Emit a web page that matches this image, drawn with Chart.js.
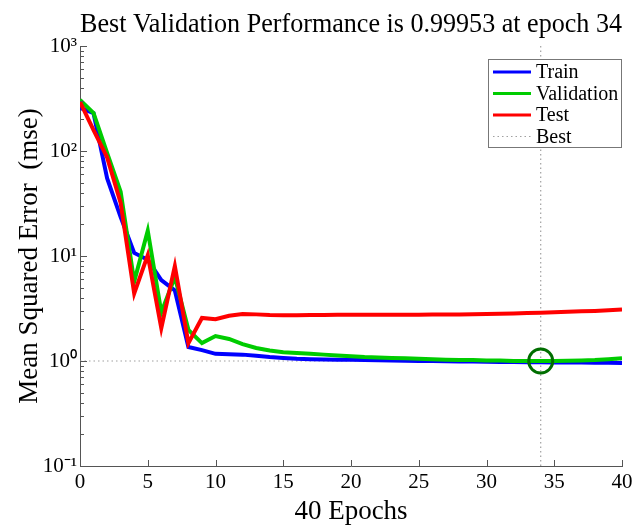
<!DOCTYPE html>
<html>
<head>
<meta charset="utf-8">
<script src="https://cdn.jsdelivr.net/npm/chart.js@4.4.0/dist/chart.umd.min.js"></script>
<style>
  body { margin: 0; background: #fff; }
  #perfcontainer { width: 638px; height: 528px; }
</style>
</head>
<body>
<div id="perfcontainer"><canvas id="perfchart" width="638" height="528"></canvas></div>
<script>
// epochs and mse values
var epochs = [0, 1, 2, 3, 4, 5, 6, 7, 8, 9, 10, 11, 12, 13, 14, 15, 16, 17, 18, 19, 20,
              21, 22, 23, 24, 25, 26, 27, 28, 29, 30, 31, 32, 33, 34, 35, 36, 37, 38, 39, 40];

var trainMse = [257, 229, 55, 23.5, 10.7, 9.2, 5.9, 4.7, 1.36, 1.27, 1.17, 1.16, 1.15, 1.12, 1.09,
                1.07, 1.05, 1.04, 1.035, 1.03, 1.025, 1.02, 1.015, 1.01, 1.005, 1.0, 1.0, 0.995,
                0.99, 0.99, 0.985, 0.98, 0.98, 0.975, 0.975, 0.97, 0.97, 0.965, 0.96, 0.96, 0.955];

var validMse = [307, 230, 96, 41, 5.7, 17.4, 2.9, 6.3, 1.98, 1.48, 1.73, 1.62, 1.45, 1.33, 1.26,
                1.21, 1.19, 1.17, 1.15, 1.13, 1.11, 1.09, 1.08, 1.07, 1.06, 1.05, 1.04, 1.03,
                1.02, 1.02, 1.01, 1.01, 1.0, 1.0, 0.99953, 1.0, 1.005, 1.01, 1.02, 1.04, 1.06];

var testMse = [294, 158, 87, 32, 4.4, 10.2, 2.06, 8.0, 1.48, 2.57, 2.5, 2.7, 2.8, 2.78, 2.74,
               2.73, 2.73, 2.74, 2.74, 2.75, 2.75, 2.76, 2.76, 2.76, 2.76, 2.76, 2.77, 2.77,
               2.78, 2.79, 2.8, 2.82, 2.84, 2.86, 2.88, 2.91, 2.94, 2.97, 3.0, 3.05, 3.1];

var bestEpoch = 34;
var bestPerf = 0.99953;

var xTicks = [0, 5, 10, 15, 20, 25, 30, 35, 40];
var yDecades = [0.1, 1, 10, 100, 1000];
var yDecadeLabels = ['10\u207B\u00B9', '10\u2070', '10\u00B9', '10\u00B2', '10\u00B3'];

var serif = '"Liberation Serif", "Times New Roman", serif';

function toPoints(xs, ys) {
  return xs.map(function(x, i) { return {x: x, y: ys[i]}; });
}

// MATLAB style inward tick marks + legend box inside the axes
var matlabAxes = {
  id: 'matlabAxes',
  afterDraw: function(chart) {
    var ctx = chart.ctx, area = chart.chartArea;
    var xs = chart.scales.x, ys = chart.scales.y;
    ctx.save();
    ctx.strokeStyle = '#555';
    ctx.lineWidth = 1;
    ctx.beginPath();
    ys.ticks.forEach(function(t) {
      var py = Math.round(ys.getPixelForValue(t.value)) + 0.5;
      var major = yDecades.indexOf(t.value) >= 0;
      ctx.moveTo(area.left, py);
      ctx.lineTo(area.left + (major ? 7 : 4), py);
    });
    xTicks.forEach(function(v) {
      var px = Math.round(xs.getPixelForValue(v)) + 0.5;
      ctx.moveTo(px, area.bottom);
      ctx.lineTo(px, area.bottom - 6);
    });
    ctx.stroke();

    // legend
    var entries = chart.data.datasets.filter(function(ds) { return ds.inLegend; });
    var boxW = 134, rowH = 21.5;
    var boxH = entries.length * rowH + 2;
    var bx = area.right - boxW, by = area.top + 13;
    ctx.fillStyle = '#fff';
    ctx.fillRect(bx, by, boxW, boxH);
    ctx.strokeStyle = '#777';
    ctx.strokeRect(bx + 0.5, by + 0.5, boxW - 1, boxH);
    ctx.font = '20px ' + serif;
    ctx.textBaseline = 'middle';
    entries.forEach(function(ds, i) {
      var ry = by + 13 + i * rowH;
      ctx.beginPath();
      ctx.strokeStyle = ds.borderColor;
      ctx.lineWidth = ds.borderDash ? 1.2 : 3;
      ctx.setLineDash(ds.borderDash || []);
      ctx.moveTo(bx + 5, ry);
      ctx.lineTo(bx + 43, ry);
      ctx.stroke();
      ctx.setLineDash([]);
      ctx.fillStyle = '#000';
      ctx.fillText(ds.label, bx + 48, ry + 1);
    });
    ctx.restore();
  }
};

var ctx = document.getElementById('perfchart').getContext('2d');
var perfchart = new Chart(ctx, {
  type: 'line',
  data: {
    datasets: [
      {label: 'Train', data: toPoints(epochs, trainMse), borderColor: 'rgb(0,0,255)',
       borderWidth: 4, pointRadius: 0, order: 3, inLegend: true},
      {label: 'Validation', data: toPoints(epochs, validMse), borderColor: 'rgb(0,204,0)',
       borderWidth: 4, pointRadius: 0, order: 2, inLegend: true},
      {label: 'Test', data: toPoints(epochs, testMse), borderColor: 'rgb(255,0,0)',
       borderWidth: 4, pointRadius: 0, order: 1, inLegend: true},
      {label: 'Best', data: [{x: bestEpoch, y: 0.1}, {x: bestEpoch, y: 1000}],
       borderColor: 'rgb(160,160,160)', borderWidth: 1.2, borderDash: [1.5, 3],
       pointRadius: 0, order: 5, inLegend: true},
      {label: 'goal', data: [{x: 0, y: bestPerf}, {x: 40, y: bestPerf}],
       borderColor: 'rgb(160,160,160)', borderWidth: 1.2, borderDash: [1.5, 3],
       pointRadius: 0, order: 5},
      {label: 'best point', data: [{x: bestEpoch, y: bestPerf}], showLine: false,
       pointRadius: 12, pointBorderWidth: 3, pointBorderColor: 'rgb(0,110,0)',
       pointBackgroundColor: 'rgba(0,0,0,0)', borderColor: 'rgb(0,110,0)', order: 0}
    ]
  },
  options: {
    responsive: false,
    animation: false,
    layout: {padding: {left: 0, right: 16, top: 0, bottom: 0}},
    plugins: {
      legend: {display: false},
      tooltip: {enabled: false},
      title: {
        display: true,
        fullSize: false,
        text: 'Best Validation Performance is 0.99953 at epoch 34',
        color: '#000',
        font: {family: serif, size: 27, weight: 'normal'},
        padding: {top: 9, bottom: 4.6}
      }
    },
    scales: {
      x: {
        type: 'linear',
        min: 0, max: 40,
        afterBuildTicks: function(scale) {
          scale.ticks = xTicks.map(function(v) { return {value: v}; });
        },
        afterFit: function(scale) { scale.height = 62; },
        grid: {display: false, drawTicks: false},
        border: {display: true, color: '#555', width: 1},
        ticks: {color: '#000', padding: 4, maxRotation: 0, autoSkip: false,
                font: {family: serif, size: 21}},
        title: {display: true, text: '40 Epochs', color: '#000', padding: {top: 0, bottom: 0},
                font: {family: serif, size: 27}}
      },
      y: {
        type: 'logarithmic',
        min: 0.1, max: 1000,
        afterBuildTicks: function(scale) {
          var t = [];
          yDecades.forEach(function(d, i) {
            if (i === yDecades.length - 1) { t.push({value: d}); return; }
            for (var m = 1; m < 10; m++) t.push({value: +(d * m).toPrecision(3)});
          });
          scale.ticks = t;
        },
        afterFit: function(scale) { scale.width = 80; },
        grid: {display: false, drawTicks: false},
        border: {display: true, color: '#555', width: 1},
        ticks: {
          color: '#000', padding: 3, autoSkip: false,
          font: {family: serif, size: 21},
          callback: function(v) {
            var i = yDecades.indexOf(v);
            return i >= 0 ? yDecadeLabels[i] : '';
          }
        },
        title: {display: true, text: 'Mean Squared Error  (mse)', color: '#000',
                padding: {top: 14, bottom: 0}, font: {family: serif, size: 27}}
      }
    }
  },
  plugins: [matlabAxes]
});
</script>
</body>
</html>
